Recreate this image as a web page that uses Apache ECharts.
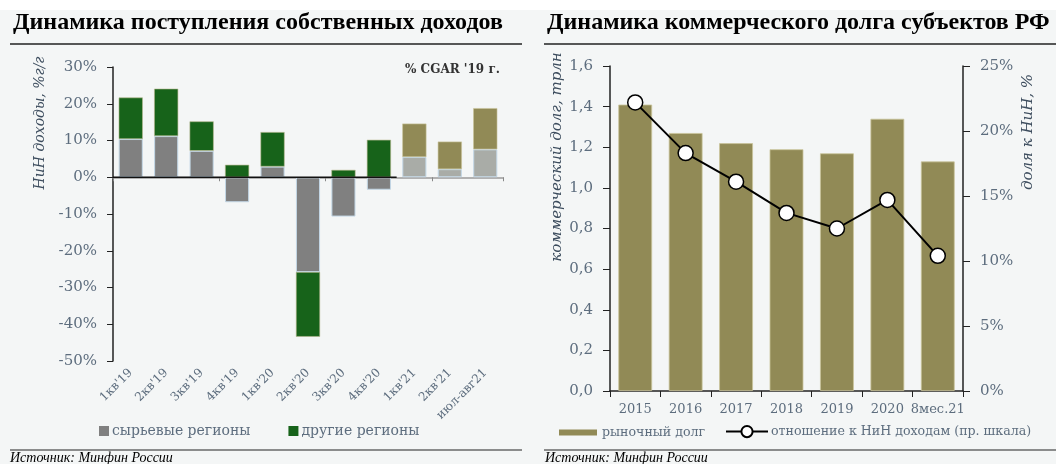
<!DOCTYPE html>
<html><head><meta charset="utf-8">
<script src="https://cdn.jsdelivr.net/npm/echarts@6/dist/echarts.min.js"></script>
<style>html,body{margin:0;padding:0;background:#fff;}#c{width:1056px;height:464px;}</style>
</head><body><div id="c"></div>
<script>
// ---- data ----
const quarters = ["1кв'19","2кв'19","3кв'19","4кв'19","1кв'20","2кв'20","3кв'20","4кв'20","1кв'21","2кв'21","июл-авг21"];
const rawRegions = [10.4, 11.2, 7.2, -6.8, 2.9, -25.8, -10.7, -3.4, 5.5, 2.2, 7.6];
const otherRegions = [11.3, 12.9, 8.0, 3.4, 9.4, -17.6, 2.0, 10.2, 9.1, 7.5, 11.2];
const cagrFrom = 8; // index from which bars show % CGAR '19
const years = ['2015','2016','2017','2018','2019','2020','8мес.21'];
const marketDebt = [1.41, 1.27, 1.22, 1.19, 1.17, 1.34, 1.13];
const ratioToIncome = [22.2, 18.3, 16.1, 13.7, 12.5, 14.7, 10.4];

const SERIF = 'DejaVu Serif';
const TXT = '#5d6d7e';
const C_GRAY = '#808080', C_GREEN = '#17631a', C_LGRAY = '#a9aca7', C_OLIVE = '#918a56';

const rawData = rawRegions.map((v,i)=> i>=cagrFrom ? {value:v, itemStyle:{color:C_LGRAY}} : v);
const otherData = otherRegions.map((v,i)=> i>=cagrFrom ? {value:v, itemStyle:{color:C_OLIVE, borderColor:'#c9c49a'}} : v);

const chart = echarts.init(document.getElementById('c'), null, {renderer:'canvas'});
const baseGraphic = [
  {type:'rect', id:'bg', shape:{x:0,y:10,width:1056,height:454}, style:{fill:'#f4f6f6'}, z:-10, silent:true},
  {type:'text', id:'t1', left:13, top:11, style:{text:'Динамика поступления собственных доходов', font:'bold 24px "Liberation Serif"', fill:'#000'}},
  {type:'line', id:'l1', shape:{x1:10,y1:44,x2:522,y2:44}, style:{stroke:'#222', lineWidth:1.5}},
  {type:'text', id:'t2', left:547, top:11, style:{text:'Динамика коммерческого долга субъектов РФ', font:'bold 24px "Liberation Serif"', fill:'#000'}},
  {type:'line', id:'l2', shape:{x1:544,y1:44,x2:1056,y2:44}, style:{stroke:'#222', lineWidth:1.5}},
  {type:'line', id:'l3', shape:{x1:10,y1:450,x2:522,y2:450}, style:{stroke:'#222', lineWidth:1.2}},
  {type:'line', id:'l4', shape:{x1:544,y1:450,x2:1056,y2:450}, style:{stroke:'#222', lineWidth:1.2}},
  {type:'text', id:'s1', left:10, top:451, style:{text:'Источник: Минфин России', font:'italic 14px "Liberation Serif"', fill:'#000'}},
  {type:'text', id:'s2', left:545, top:451, style:{text:'Источник: Минфин России', font:'italic 14px "Liberation Serif"', fill:'#000'}},
  {type:'text', id:'cg', left:405, top:64, style:{text:"% CGAR '19 г.", font:'bold 12px "DejaVu Serif"', fill:'#333'}},
  {type:'text', id:'yn1', x:40, y:123, rotation:Math.PI/2, style:{text:'НиН доходы, %г/г', font:'italic 14px "DejaVu Serif"', fill:'#3d4d5e', align:'center', verticalAlign:'middle'}},
  {type:'text', id:'yn2', x:557, y:157, rotation:Math.PI/2, style:{text:'коммерческий долг, трлн', font:'italic 15px "DejaVu Serif"', fill:'#3d4d5e', align:'center', verticalAlign:'middle'}},
  {type:'text', id:'yn3', x:1028, y:132, rotation:Math.PI/2, style:{text:'доля к НиН, %', font:'italic 15px "DejaVu Serif"', fill:'#3d4d5e', align:'center', verticalAlign:'middle'}}
];

const option = {
  animation:false,
  backgroundColor:'transparent',
  textStyle:{fontFamily:SERIF, color:TXT},
  graphic: baseGraphic,
  grid:[
    {left:113, right:553, top:67, bottom:103},
    {left:610, right:93, top:66, bottom:73}
  ],
  legend:[
    {left:94, top:419, itemWidth:10, itemHeight:10, itemGap:38, icon:'rect',
     itemStyle:{borderWidth:0},
     textStyle:{fontFamily:SERIF, fontSize:14, color:TXT, padding:[0,0,0,-2]},
     data:['сырьевые регионы','другие регионы']},
    {left:554, top:421, itemWidth:38, itemHeight:6, icon:'rect',
     itemStyle:{borderWidth:0},
     textStyle:{fontFamily:SERIF, fontSize:12.6, color:TXT},
     data:['рыночный долг']},
    {left:720, top:420, itemWidth:42, itemHeight:14,
     textStyle:{fontFamily:SERIF, fontSize:12.6, color:TXT, padding:[0,0,0,-2]},
     data:['отношение к НиН доходам (пр. шкала)']}
  ],
  xAxis:[
    {gridIndex:0, type:'category', data:quarters, position:'bottom',
     axisLine:{show:false, onZero:false}, axisTick:{show:false},
     axisLabel:{rotate:45, interval:0, margin:10, fontFamily:SERIF, fontSize:12, color:TXT}},
    {gridIndex:0, type:'category', data:quarters, position:'bottom',
     axisLine:{show:true, onZero:true, lineStyle:{color:'#9a9a9a', width:1.5}},
     axisTick:{show:true, length:4, lineStyle:{color:'#888'}},
     axisLabel:{show:false}},
    {gridIndex:1, type:'category', data:years,
     axisLine:{lineStyle:{color:'#222', width:1.5}},
     axisTick:{show:true, length:6, lineStyle:{color:'#222'}},
     axisLabel:{interval:0, margin:12, fontFamily:SERIF, fontSize:13, color:TXT}}
  ],
  yAxis:[
    {gridIndex:0, type:'value', min:-50, max:30, interval:10,
     axisLine:{show:true, lineStyle:{color:'#222', width:1.5}},
     axisTick:{show:true, length:6, lineStyle:{color:'#222'}},
     splitLine:{show:false},
     axisLabel:{margin:16, fontFamily:SERIF, fontSize:15, color:TXT, formatter:v=>v+'%'}},
    {gridIndex:1, type:'value', min:0, max:1.6, interval:0.2,
     axisLine:{show:true, lineStyle:{color:'#222', width:1.5}},
     axisTick:{show:true, length:7, lineStyle:{color:'#222'}},
     splitLine:{show:false},
     axisLabel:{margin:17, fontFamily:SERIF, fontSize:15, color:TXT, formatter:v=>v.toFixed(1).replace('.',',')}},
    {gridIndex:1, type:'value', position:'right', min:0, max:25, interval:5,
     axisLine:{show:true, lineStyle:{color:'#222', width:1.5}},
     axisTick:{show:true, length:7, lineStyle:{color:'#222'}},
     splitLine:{show:false},
     axisLabel:{margin:17, fontFamily:SERIF, fontSize:15, color:TXT, formatter:v=>v+'%'}}
  ],
  series:[
    {name:'сырьевые регионы', type:'bar', stack:'a', xAxisIndex:0, yAxisIndex:0, barCategoryGap:'32%',
     data:rawData, itemStyle:{color:C_GRAY, borderColor:'#c3d7e6', borderWidth:1}},
    {name:'другие регионы', type:'bar', stack:'a', xAxisIndex:0, yAxisIndex:0, barCategoryGap:'32%',
     data:otherData, itemStyle:{color:C_GREEN, borderColor:'#b9b88e', borderWidth:0.6}},
    {name:'рыночный долг', type:'bar', xAxisIndex:2, yAxisIndex:1, barCategoryGap:'33%',
     data:marketDebt, itemStyle:{color:C_OLIVE, borderColor:'#c9c49a', borderWidth:0.8}},
    {name:'отношение к НиН доходам (пр. шкала)', type:'line', xAxisIndex:2, yAxisIndex:2, z:5,
     data:ratioToIncome, symbol:'circle', symbolSize:15,
     lineStyle:{color:'#000', width:2},
     itemStyle:{color:'#fff', borderColor:'#000', borderWidth:1.5}}
  ]
};
chart.setOption(option);

// black part of the zero line (up to end of 4кв'20), positions from the library's scales
const c0 = chart.convertToPixel({xAxisIndex:1}, 0);
const c1 = chart.convertToPixel({xAxisIndex:1}, 1);
const band = c1 - c0;
const y0 = chart.convertToPixel({yAxisIndex:0}, 0);
chart.setOption({graphic: baseGraphic.concat([
  {type:'line', id:'zeroBlack', shape:{x1:c0-band/2, y1:y0, x2:c0+band*(cagrFrom-0.5), y2:y0}, style:{stroke:'#111', lineWidth:1.5}, z:10}
])});
</script></body></html>
